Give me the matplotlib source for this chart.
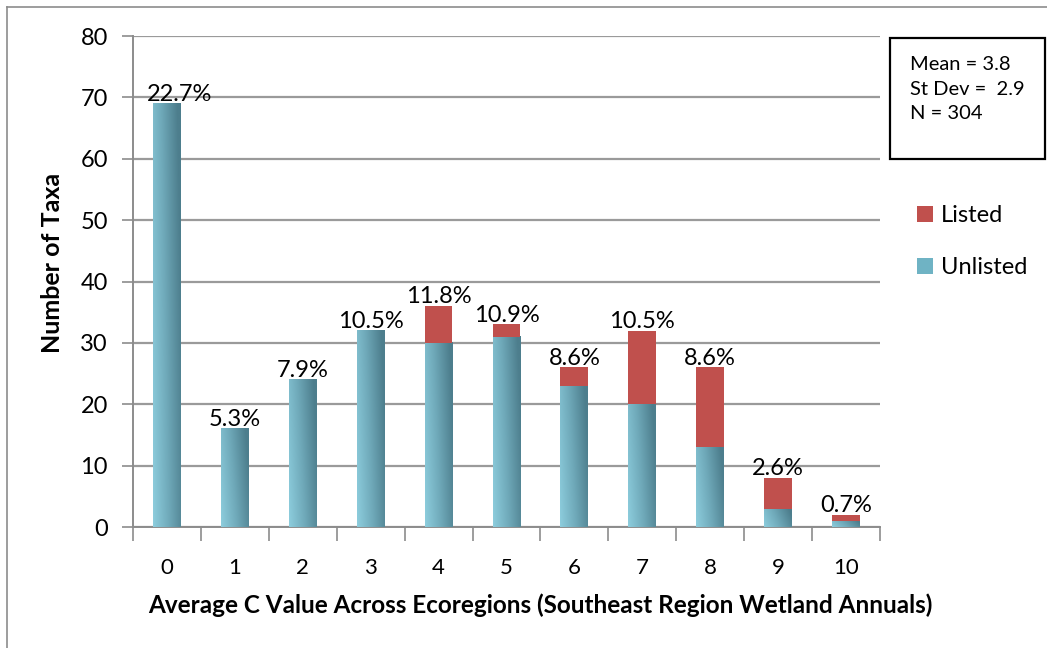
import numpy as np
import matplotlib.pyplot as plt
from matplotlib.colors import LinearSegmentedColormap
from matplotlib.patches import Patch
from matplotlib.lines import Line2D

plt.rcParams['font.family'] = ['Lato', 'DejaVu Sans']

# C value categories and counts
c_values = ['0', '1', '2', '3', '4', '5', '6', '7', '8', '9', '10']
unlisted = [69, 16, 24, 32, 30, 31, 23, 20, 13, 3, 1]
listed = [0, 0, 0, 0, 6, 2, 3, 12, 13, 5, 1]
pct_labels = ['22.7%', '5.3%', '7.9%', '10.5%', '11.8%', '10.9%',
              '8.6%', '10.5%', '8.6%', '2.6%', '0.7%']
stats_text = 'Mean = 3.8\nSt Dev =  2.9\nN = 304'

fig = plt.figure(figsize=(10.47, 6.48), dpi=100)
ax = fig.add_axes([0.127, 0.1867, 0.7135, 0.7577])

x = np.arange(len(c_values))
width = 0.41
totals = np.array(unlisted) + np.array(listed)

# blue bars with a left-to-right gradient like the excel look
blue_cmap = LinearSegmentedColormap.from_list('bl', ['#8DCDDD', '#6FA9B9', '#4D7E8D'])
u = np.linspace(0, 1, 64)
v = np.linspace(0, 1, 64)
U, V = np.meshgrid(u, v)
grad = np.clip(U * 0.85 + (1 - V) * 0.25, 0, 1)

bars = ax.bar(x, unlisted, width, color='none', zorder=3)
for b in bars:
    x0, y0 = b.get_x(), b.get_y()
    ax.imshow(grad, cmap=blue_cmap, extent=[x0, x0 + b.get_width(), y0, y0 + b.get_height()],
              origin='upper', aspect='auto', zorder=3, vmin=0, vmax=1)
ax.bar(x, listed, width, bottom=unlisted, color='#C0504D', zorder=3)

for i, t in enumerate(totals):
    dx = 9 if i == 0 else 0  # excel nudged the first label off the axis
    ax.annotate(pct_labels[i], (x[i], t), xytext=(dx, -1), textcoords='offset points',
                ha='center', va='bottom', fontsize=17, zorder=5)

ax.set_xlim(-0.5, len(c_values) - 0.5)
ax.set_ylim(0, 80)
ax.set_yticks(range(0, 81, 10))
ax.set_xticks(x)
ax.set_xticklabels(c_values)
ax.set_xticks(np.arange(-0.5, len(c_values), 1), minor=True)
ax.tick_params(axis='x', which='major', length=0, labelsize=16, pad=22)
ax.tick_params(axis='x', which='minor', length=10, width=1.2, color='#8C8C8C')
ax.tick_params(axis='y', length=8, width=1.2, color='#8C8C8C', labelsize=17, pad=10)

ax.grid(axis='y', color='#9A9A9A', linewidth=1.6, zorder=0)
ax.set_axisbelow(True)
for s in ['top', 'right']:
    ax.spines[s].set_visible(False)
for s in ['left', 'bottom']:
    ax.spines[s].set_color('#8C8C8C')
    ax.spines[s].set_linewidth(1.4)

ax.set_xlabel('Average C Value Across Ecoregions (Southeast Region Wetland Annuals)',
              fontsize=17.5, fontweight='bold')
ax.xaxis.set_label_coords(0.545, -0.159)
ax.xaxis.label.set_va('center')
ax.set_ylabel('Number of Taxa', fontsize=18, fontweight='bold')
ax.yaxis.set_label_coords(-0.108, 0.538)
ax.yaxis.label.set_va('center')

# stats box
fig.text(0.869, 0.913, stats_text, fontsize=14.5, va='top', ha='left', linespacing=1.52)
box = plt.Rectangle((890 / 1047, 1 - 159 / 648), 155 / 1047, 121 / 648,
                    transform=fig.transFigure, fill=False, ec='black', lw=1.6)
fig.patches.append(box)

handles = [Patch(facecolor='#C0504D', label='Listed'),
           Patch(facecolor='#6FB3C4', label='Unlisted')]
fig.legend(handles=handles, loc='upper left', bbox_to_anchor=(0.856, 0.716),
           frameon=False, fontsize=17, handlelength=0.65, handleheight=0.65,
           labelspacing=1.3, handletextpad=0.35)

# outer chart border
fig.add_artist(Line2D([7 / 1047, 7 / 1047], [0, 1 - 7 / 648], color='#8C8C8C', lw=1.2))
fig.add_artist(Line2D([7 / 1047, 1], [1 - 7 / 648, 1 - 7 / 648], color='#8C8C8C', lw=1.2))

fig.savefig('out.png', dpi=100)
